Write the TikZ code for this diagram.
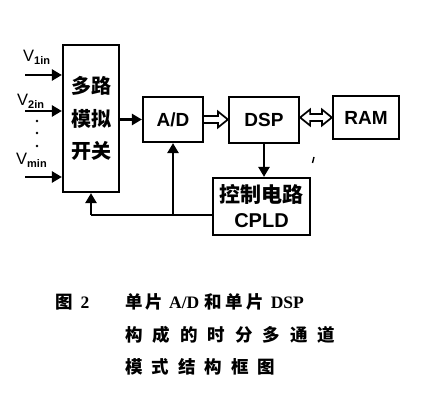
\documentclass[tikz,border=0pt]{standalone}
\usepackage{fontspec}
\setmainfont{Liberation Sans}
\newfontfamily\cjk{Noto Sans CJK SC}
\newfontfamily\serb{Liberation Serif}
\usetikzlibrary{arrows.meta,calc}
\begin{document}
\begin{tikzpicture}[x=1pt,y=-1pt,
  box/.style={draw, line width=2.2pt, inner sep=0pt, align=center},
  arr/.style={line width=2.4pt, -{Triangle[length=10pt,width=11pt]}},
  ln/.style={line width=2.4pt},
  hol/.style={line width=1.7pt, fill=white, line join=miter},
  lbl/.style={font=\bfseries\fontsize{19}{24}\selectfont},
  vlab/.style={anchor=base west, inner sep=0pt, font=\fontsize{16.5}{16.5}\selectfont},
  captxt/.style={anchor=base west, inner sep=0pt, font=\cjk\bfseries\fontsize{17.5}{17.5}\selectfont}]
\useasboundingbox (0,0) rectangle (423,414);
\fill[white] (0,0) rectangle (423,414);

% boxes
\node[box, minimum width=56pt, minimum height=147pt,
      font=\cjk\bfseries\fontsize{20}{32.5}\selectfont] (mux) at (91,118.5) {多路\\模拟\\开关};
\node[box, lbl, minimum width=60pt, minimum height=45pt] (ad) at (173,119.5) {A/D};
\node[box, lbl, minimum width=70pt, minimum height=46pt] (dsp) at (264,120) {DSP};
\node[box, lbl, minimum width=66pt, minimum height=43pt] (ram) at (366,117.5) {RAM};
\node[box, minimum width=97pt, minimum height=57pt,
      font=\bfseries\fontsize{20}{25}\selectfont] (cpld) at (261.5,206.5) {{\cjk\bfseries\fontsize{21}{25}\selectfont 控制电路}\\CPLD};

% inputs
\coordinate (i1) at (25,75);
\coordinate (i2) at (25,111);
\coordinate (i3) at (25,177);
\draw[arr] (i1) -- (i1 -| mux.west);
\draw[arr] (i2) -- (i2 -| mux.west);
\draw[arr] (i3) -- (i3 -| mux.west);
\node[vlab] (v1) at (23,62) {V\raisebox{-3pt}{\fontsize{11}{11}\selectfont\bfseries 1in}};
\node[vlab] (v2) at (17,106) {V\raisebox{-3pt}{\fontsize{11}{11}\selectfont\bfseries 2in}};
\node[vlab] (v3) at (16,165) {V\raisebox{-3pt}{\fontsize{11}{11}\selectfont\bfseries min}};
\fill (37,121) circle (1.4) (37,133) circle (1.4) (37,146) circle (1.4);

% mux -> A/D
\draw[arr] (mux.east |- ad.west) -- (ad.west);

% A/D => DSP (hollow)
\coordinate (s) at (ad.east);
\coordinate (t) at (dsp.west |- ad.east);
\draw[hol] ($(s)+(0,-3.5)$) -- ($(t)+(-10,-3.5)$) -- ($(t)+(-10,-8)$) -- (t)
  -- ($(t)+(-10,8)$) -- ($(t)+(-10,3.5)$) -- ($(s)+(0,3.5)$);

% DSP <=> RAM (hollow, both ends)
\coordinate (l) at (dsp.east |- ram.west);
\coordinate (r) at (ram.west);
\draw[hol] (l) -- ($(l)+(10,-8)$) -- ($(l)+(10,-3.5)$) -- ($(r)+(-10,-3.5)$)
  -- ($(r)+(-10,-8)$) -- (r) -- ($(r)+(-10,8)$) -- ($(r)+(-10,3.5)$)
  -- ($(l)+(10,3.5)$) -- ($(l)+(10,8)$) -- cycle;

% DSP -> CPLD
\draw[arr] (dsp.south) -- (dsp.south |- cpld.north);

% feedback
\coordinate (fb) at ($(cpld.west)+(0,8.5)$);
\draw[ln] (fb) -- (fb -| mux.south);
\draw[arr] (fb -| mux.south) -- (mux.south);
\draw[arr] (fb -| ad.south) -- (ad.south);

% stray tick
\draw[line width=1.4pt] (314,157) -- (312.5,163);

% caption
\node[captxt] (c0) at (55,308) {图\kern8pt{\serb\bfseries 2}};
\node[captxt] (c1) at (125,308) {单\kern3pt片\kern6pt{\serb\bfseries A/D}\kern5pt和\kern4pt单\kern3pt片\kern7pt{\serb\bfseries DSP}};
\node[captxt] (c2) at (125,341) {构\kern10pt成\kern10pt的\kern10pt时\kern10pt分\kern10pt多\kern10pt通\kern10pt道};
\node[captxt] (c3) at (125,373) {模\kern9pt式\kern9pt结\kern9pt构\kern9pt框\kern9pt图};
\end{tikzpicture}
\end{document}
